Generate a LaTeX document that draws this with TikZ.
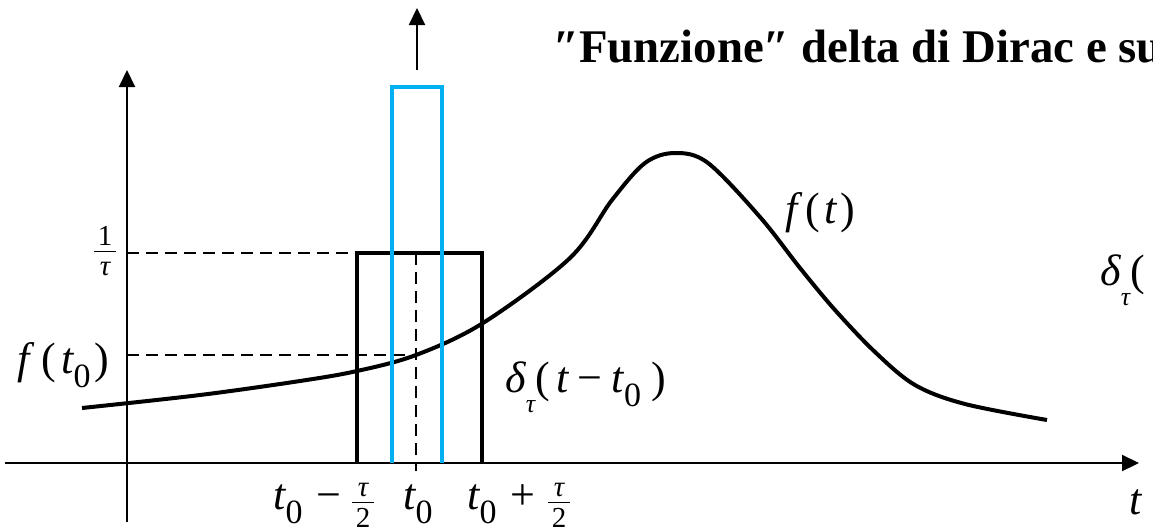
\documentclass[tikz,border=0pt]{standalone}
\usepackage{fontspec}
\setmainfont{Liberation Serif}
\usetikzlibrary{arrows.meta}
\definecolor{cyanb}{RGB}{0,176,240}
\newcommand{\zsub}[1]{\raisebox{-0.32em}{\fontsize{17}{19}\selectfont\upshape #1}}
\newcommand{\tsub}{\raisebox{-0.46em}{\fontsize{13}{15}\selectfont\itshape τ}}
\newcommand{\fpart}[1]{\mbox{\hspace{2pt}\fontsize{14.5}{15}\selectfont #1\hspace{2pt}}}
\newcommand{\myfrac}[2]{$\frac{\fpart{#1}}{\fpart{#2}}$}
\tikzset{
  axisline/.style={line width=1.1pt,-{Triangle[length=8.5pt,width=8pt]}},
  boxline/.style={line width=1.6pt},
  blueline/.style={line width=2pt,draw=cyanb},
  guide/.style={line width=0.7pt,dash pattern=on 6pt off 3.5pt},
  lab/.style={font=\fontsize{22}{26}\selectfont, inner sep=0pt},
}
\begin{document}
\begin{tikzpicture}[x=0.5pt,y=-0.5pt]
\useasboundingbox (0,0) rectangle (1153,526);
\clip (0,0) rectangle (1153,526);
% title
\node[anchor=base west, inner sep=0pt, font=\fontsize{23.4}{27}\selectfont\bfseries] (title) at (553,62) {″Funzione″ delta di Dirac e su};
% curve
\draw[line width=2pt, line join=round] plot[smooth, tension=0.55] coordinates {
 (82,408) (200,395) (300,381) (357,371) (416,355) (483,323) (570,258)
 (612,200) (645,163) (675,153) (708,163) (760,217) (800,268) (835,310)
 (875,352) (915,385) (965,404) (1047,420)};
% axes
\coordinate (xs) at (5,463); \coordinate (xe) at (1139,463);
\coordinate (ys) at (127,522); \coordinate (ye) at (127,70);
\draw[axisline] (xs) -- (xe);
\draw[axisline] (ys) -- (ye);
% guides
\coordinate (g1a) at (127,253); \coordinate (g1b) at (357,253);
\coordinate (g2a) at (127,355); \coordinate (g2b) at (416,355);
\coordinate (g3a) at (416,253); \coordinate (g3b) at (416,471);
\draw[guide] (g1a) -- (g1b);
\draw[guide] (g2a) -- (g2b);
\draw[guide] (g3a) -- (g3b);
% black box
\draw[boxline] (357,463) -- (357,253) -- (482,253) -- (482,463);
% blue box
\draw[blueline] (392,463) -- (392,87) -- (442,87) -- (442,463);
% up arrow
\coordinate (ua) at (417,70); \coordinate (ub) at (417,8);
\draw[axisline] (ua) -- (ub);
% labels
\node[lab, anchor=base west] (ft) at (785,223) {\itshape f\hspace{4pt}\upshape(\hspace{2pt}\itshape t\hspace{2pt}\upshape)};
\node[lab, anchor=base west] (ft0) at (17,373) {\itshape f\hspace{6pt}\upshape(\hspace{2.5pt}\itshape t\zsub{0}\hspace{2pt}\upshape)};
\node[lab, anchor=base west] (dlab) at (505,392) {\itshape δ\tsub\upshape(\hspace{3.5pt}\itshape t\hspace{4pt}\upshape−\hspace{5pt}\itshape t\zsub{0}\hspace{5pt}\upshape)};
\node[lab, anchor=base west] (dlab2) at (1100,285) {\itshape δ\tsub\upshape(};
\node[inner sep=0pt] (inv) at (105,251) {\fontsize{22}{26}\selectfont\myfrac{1}{\itshape τ}};
\node[lab, anchor=base west] (l1) at (273,509) {\itshape t\zsub{0}\hspace{7pt}\upshape−\hspace{4pt}\raisebox{-2pt}{\myfrac{\itshape τ}{2}}};
\node[lab, anchor=base west] (l2) at (403,509) {\itshape t\zsub{0}};
\node[lab, anchor=base west] (l3) at (467,509) {\itshape t\zsub{0}\hspace{7pt}\upshape+\hspace{5pt}\raisebox{-2pt}{\myfrac{\itshape τ}{2}}};
\node[lab, anchor=base west] (lt) at (1129,514) {\itshape t};
\end{tikzpicture}
\end{document}
